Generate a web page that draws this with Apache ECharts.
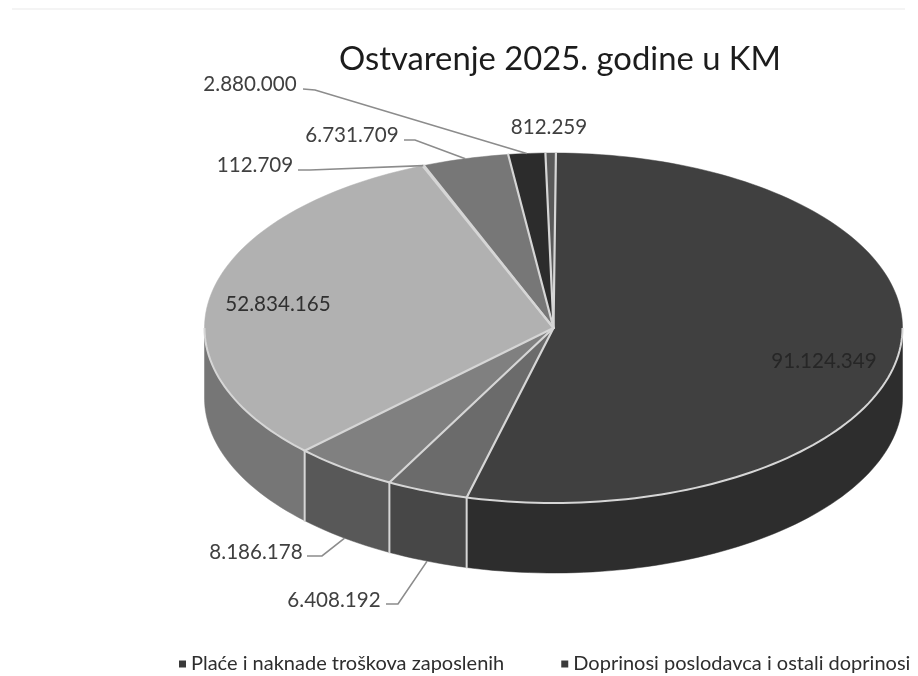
<!DOCTYPE html>
<html><head><meta charset="utf-8">
<style>html,body{margin:0;padding:0;background:#fff}#c{width:918px;height:676px;filter:blur(0.4px)}</style>
<script src="https://cdn.jsdelivr.net/npm/echarts@6/dist/echarts.min.js"></script>
</head><body><div id="c"></div>
<script>
// ---- data ----
const sliceValues = [91124349, 6408192, 8186178, 52834165, 112709, 6731709, 2880000, 812259];
const sliceLabels = ['91.124.349','6.408.192','8.186.178','52.834.165','112.709','6.731.709','2.880.000','812.259'];
const legendNames = ['Plaće i naknade troškova zaposlenih','Doprinosi poslodavca i ostali doprinosi'];
const titleText = 'Ostvarenje 2025. godine u KM';
// ---- styling ----
const topColors  = ['#404040','#6b6b6b','#808080','#b1b1b1','#9a9a9a','#777777','#2c2c2c','#5a5a5a'];
const sideColors = ['#2d2d2d','#474747','#585858','#767676','#666666','#4f4f4f','#1e1e1e','#3c3c3c'];
const sepColor = '#d6d6d6';
const startDeg = 0.4, depth = 0.4;
const cx = 553.5, cy = 328, rx = 349, ry = 175;
const labelLayout = [
  {p:[824,361],c:'#262626'},
  {p:[334,600],c:'#404040',from:[386,604],elbow:[398,604]},
  {p:[256,552],c:'#404040',from:[307,556],elbow:[322,556]},
  {p:[278,304],c:'#303030'},
  {p:[255,165],c:'#404040',from:[298,170],elbow:[310,170]},
  {p:[352,135],c:'#404040',from:[404,140],elbow:[415,140]},
  {p:[250,84],c:'#404040',from:[303,89],elbow:[315,90]},
  {p:[549,127],c:'#404040'}
];
const total = sliceValues.reduce((a,b)=>a+b,0);
const toRad = d => d*Math.PI/180;
const unit = (deg,down) => [Math.sin(toRad(deg)), Math.cos(toRad(deg)) - (down||0)];
let acc = startDeg;
const ranges = sliceValues.map(v => { const s=acc; acc += v/total*360; return [s,acc]; });

function arc(a,b,down){ const n=Math.max(2,Math.ceil(Math.abs(b-a)/1.5)); const o=[];
  for(let i=0;i<=n;i++) o.push(unit(a+(b-a)*i/n,down)); return o; }

function renderPie(params, api){
  const C = p => api.coord(p);
  const kids = [];
  const seg = (p,q,w) => kids.push({type:'line',shape:{x1:p[0],y1:p[1],x2:q[0],y2:q[1]},style:{stroke:sepColor,lineWidth:w,lineCap:'round'}});
  // side walls: only the front half (90..270 deg) is visible
  ranges.forEach((r,i)=>{
    const a=Math.max(r[0],90), b=Math.min(r[1],270);
    if(b<=a) return;
    const pts = arc(a,b,0).concat(arc(b,a,depth)).map(C);
    kids.push({type:'polygon',shape:{points:pts},style:{fill:sideColors[i],stroke:sideColors[i],lineWidth:0.5}});
  });
  ranges.forEach(r=>{
    const b=r[1];
    if(b>90&&b<270) seg(C(unit(b,0)),C(unit(b,depth)),2);
  });
  // top faces
  ranges.forEach((r,i)=>{
    const pts=[C([0,0])].concat(arc(r[0],r[1],0).map(C));
    kids.push({type:'polygon',shape:{points:pts},style:{fill:topColors[i],stroke:topColors[i],lineWidth:0.5}});
  });
  // separators and the lit front rim
  ranges.forEach(r=>seg(C([0,0]),C(unit(r[0],0)),2.2));
  kids.push({type:'polyline',shape:{points:arc(90,270,0).map(C)},style:{fill:'none',stroke:sepColor,lineWidth:2}});
  // labels & leaders
  ranges.forEach((r,i)=>{
    const L=labelLayout[i], mid=(r[0]+r[1])/2;
    if(L.from){
      const front = mid>90&&mid<270;
      const e = C(unit(mid, front?depth:0));
      kids.push({type:'polyline',shape:{points:[L.from,L.elbow,e]},style:{fill:'none',stroke:'#8c8c8c',lineWidth:1.6}});
    }
    kids.push({type:'text',style:{text:sliceLabels[i],x:L.p[0],y:L.p[1],align:'center',verticalAlign:'middle',
      font:'20.6px Lato, "Open Sans", sans-serif',fill:L.c}});
  });
  return {type:'group',children:kids};
}

const chart = echarts.init(document.getElementById('c'),null,{renderer:'canvas'});
chart.setOption({
  backgroundColor:'#ffffff',
  animation:false,
  title:{text:titleText,left:334,top:38,textStyle:{fontFamily:'Lato, "Open Sans", sans-serif',fontWeight:'normal',fontSize:32.8,color:'#1c1c1c'}},
  grid:{left:cx-rx,width:2*rx,top:cy-ry,height:2*ry,containLabel:false},
  xAxis:{type:'value',min:-1,max:1,show:false},
  yAxis:{type:'value',min:-1,max:1,show:false},
  legend:{data:legendNames,left:174,top:649,itemWidth:7,itemHeight:7,itemGap:57,icon:'rect',
    textStyle:{fontFamily:'Lato, "Open Sans", sans-serif',fontSize:20,color:'#2e2e2e'},selectedMode:false},
  graphic:[
    {type:'line',silent:true,shape:{x1:12,y1:9,x2:905,y2:9},style:{stroke:'#f4f4f4',lineWidth:2}}
  ],
  series:[
    {type:'custom',name:'pie',coordinateSystem:'cartesian2d',clip:false,silent:true,data:[[0,0]],renderItem:renderPie},
    {type:'custom',name:legendNames[0],coordinateSystem:'cartesian2d',data:[],itemStyle:{color:'#3a3a3a'},renderItem:()=>null},
    {type:'custom',name:legendNames[1],coordinateSystem:'cartesian2d',data:[],itemStyle:{color:'#3a3a3a'},renderItem:()=>null}
  ]
});
</script></body></html>
